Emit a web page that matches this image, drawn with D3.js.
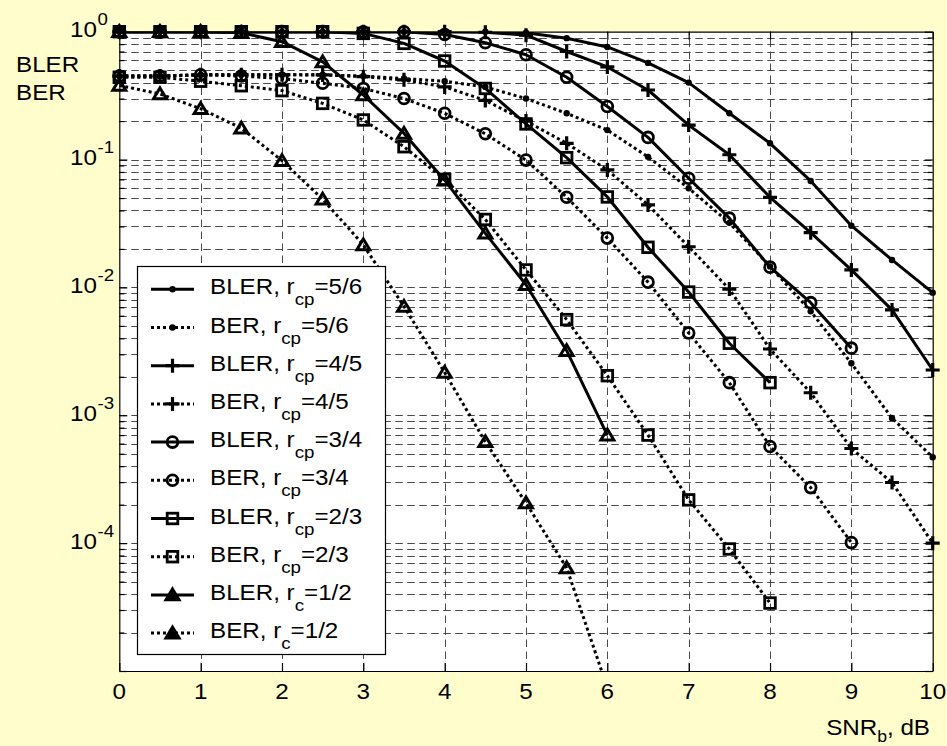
<!DOCTYPE html>
<html>
<head>
<meta charset="utf-8">
<script src="https://cdn.jsdelivr.net/npm/d3@7"></script>
<style>
  html, body { margin: 0; padding: 0; background: #fffdcc; }
  svg { display: block; }
  text { font-family: "Liberation Sans", Arial, Helvetica, sans-serif; fill: #000; }
</style>
</head>
<body>
<svg id="chart" width="947" height="746"></svg>
<script>
// ---- data: SNR grid (dB) and error rates per code rate ----
const snrDb = [0, 0.5, 1, 1.5, 2, 2.5, 3, 3.5, 4, 4.5, 5, 5.5, 6, 6.5, 7, 7.5, 8, 8.5, 9, 9.5, 10];

const blerR56 = [1, 1, 1, 1, 1, 1, 1, 1, 1, 1, 0.98, 0.89, 0.76, 0.57, 0.40, 0.23, 0.134, 0.068, 0.0304, 0.0164, 0.0091];
const berR56  = [0.45, 0.45, 0.46, 0.46, 0.46, 0.46, 0.45, 0.43, 0.41, 0.37, 0.30, 0.23, 0.17, 0.105, 0.0597, 0.032, 0.0146, 0.0065, 0.00255, 0.00095, 0.00047];
const blerR45 = [1, 1, 1, 1, 1, 1, 1, 1, 1, 0.99, 0.94, 0.70, 0.53, 0.35, 0.186, 0.109, 0.0507, 0.0268, 0.0137, 0.00667, 0.00226];
const berR45  = [0.45, 0.45, 0.46, 0.46, 0.46, 0.459, 0.445, 0.42, 0.37, 0.29, 0.20, 0.134, 0.083, 0.0442, 0.0208, 0.0097, 0.0033, 0.0015, 0.00055, 0.000298, 0.0001];
const blerR34 = [1, 1, 1, 1, 1, 1, 1, 1, 0.95, 0.82, 0.66, 0.44, 0.26, 0.149, 0.0714, 0.0348, 0.0144, 0.0076, 0.00335, null, null];
const berR34  = [0.45, 0.45, 0.46, 0.45, 0.43, 0.395, 0.36, 0.30, 0.23, 0.159, 0.099, 0.0507, 0.0243, 0.011, 0.0044, 0.0018, 0.00057, 0.000272, 0.000101, null, null];
const blerR23 = [1, 1, 1, 1, 1, 1, 0.97, 0.81, 0.59, 0.36, 0.19, 0.1035, 0.051, 0.0206, 0.0092, 0.00366, 0.0018, null, null, null, null];
const berR23  = [0.44, 0.44, 0.41, 0.378, 0.346, 0.275, 0.204, 0.126, 0.070, 0.034, 0.0137, 0.0056, 0.00204, 0.0007, 0.000218, 0.00009, 0.000034, null, null, null, null];
const blerR12 = [1, 1, 1, 0.98, 0.835, 0.58, 0.32, 0.16, 0.069, 0.0265, 0.0105, 0.0032, 0.0007, null, null, null, null, null, null, null, null];
const berR12  = [0.38, 0.326, 0.25, 0.176, 0.098, 0.049, 0.0215, 0.0071, 0.00216, 0.00062, 0.000206, 0.000064, 0.0000074, null, null, null, null, null, null, null, null];

// legend text pieces
const metricNames = ["BLER", "BER", "BLER", "BER", "BLER", "BER", "BLER", "BER", "BLER", "BER"];
const rateSubs    = ["cp", "cp", "cp", "cp", "cp", "cp", "cp", "cp", "c", "c"];
const rateTexts   = ["5/6", "5/6", "4/5", "4/5", "3/4", "3/4", "2/3", "2/3", "1/2", "1/2"];

// axis ticks
const xTickValues = [0, 1, 2, 3, 4, 5, 6, 7, 8, 9, 10];
const yDecadeExps = [0, -1, -2, -3, -4];

// ---- series table ----
const seriesValues  = [blerR56, berR56, blerR45, berR45, blerR34, berR34, blerR23, berR23, blerR12, berR12];
const seriesMarkers = ["dot", "dot", "plus", "plus", "circle", "circle", "square", "square", "triangle", "triangle"];
const series = seriesValues.map((vals, i) => ({
  values: vals,
  marker: seriesMarkers[i],
  dotted: i % 2 === 1,
  name: metricNames[i], sub: rateSubs[i], rate: rateTexts[i]
}));

// ---- layout ----
const svg = d3.select("#chart");
const plotL = 119.3, plotR = 932.7, plotT = 31.7, plotB = 671;
const SX = 1.1;           // horizontal glyph stretch
const FONT = 22;

const x = d3.scaleLinear().domain([0, 10]).range([plotL, plotR]);
const y = d3.scaleLog().domain([1e-5, 1]).range([plotB, plotT]);

// figure background
svg.append("rect").attr("width", 947).attr("height", 746).attr("fill", "#fffdcc");
// axes background
svg.append("rect").attr("x", plotL).attr("y", plotT)
  .attr("width", plotR - plotL).attr("height", plotB - plotT).attr("fill", "#fff");

// ---- grid ----
const minorVals = [];
for (let e = -5; e < 0; e++) for (let m = 1; m <= 9; m++) minorVals.push(m * Math.pow(10, e));
const grid = svg.append("g").attr("stroke", "#4a4a4a").attr("stroke-width", 1)
  .attr("stroke-dasharray", "7.5,4.5").attr("fill", "none");
grid.selectAll("line.h").data(minorVals.filter(v => v > 1e-5)).join("line")
  .attr("x1", plotL).attr("x2", plotR)
  .attr("y1", d => Math.round(y(d)) + 0.5).attr("y2", d => Math.round(y(d)) + 0.5);
grid.selectAll("line.v").data(xTickValues.filter(v => v > 0 && v < 10)).join("line")
  .attr("x1", d => Math.round(x(d)) + 0.5).attr("x2", d => Math.round(x(d)) + 0.5)
  .attr("y1", plotB).attr("y2", plotT);

// ---- axes (inward ticks on all four sides) ----
function styleAxis(g) {
  g.selectAll("path,line").attr("stroke", "#000").attr("stroke-width", 1.2);
  g.selectAll("text").remove();
}
svg.append("g").attr("transform", `translate(0,${plotB})`)
  .call(d3.axisBottom(x).tickValues(xTickValues).tickSize(-8).tickSizeOuter(0).tickFormat(""))
  .call(styleAxis);
svg.append("g").attr("transform", `translate(0,${plotT})`)
  .call(d3.axisTop(x).tickValues(xTickValues).tickSize(-8).tickSizeOuter(0).tickFormat(""))
  .call(styleAxis);
const majorY = yDecadeExps.map(e => Math.pow(10, e)).concat([1e-5]);
const minorY = minorVals.filter(v => !majorY.some(m => Math.abs(m - v) / v < 1e-9));
svg.append("g").attr("transform", `translate(${plotL},0)`)
  .call(d3.axisLeft(y).tickValues(majorY).tickSize(-8).tickSizeOuter(0).tickFormat(""))
  .call(styleAxis);
svg.append("g").attr("transform", `translate(${plotL},0)`)
  .call(d3.axisLeft(y).tickValues(minorY).tickSize(-5).tickSizeOuter(0).tickFormat(""))
  .call(styleAxis).select(".domain").remove();
svg.append("g").attr("transform", `translate(${plotR},0)`)
  .call(d3.axisRight(y).tickValues(majorY).tickSize(-8).tickSizeOuter(0).tickFormat(""))
  .call(styleAxis);
svg.append("g").attr("transform", `translate(${plotR},0)`)
  .call(d3.axisRight(y).tickValues(minorY).tickSize(-5).tickSizeOuter(0).tickFormat(""))
  .call(styleAxis).select(".domain").remove();

// ---- text helper (stretched glyphs) ----
function label(parent, px, py, anchor, size) {
  return parent.append("g").attr("transform", `translate(${px},${py}) scale(${SX},1)`)
    .append("text").attr("text-anchor", anchor).attr("font-size", size);
}

// x tick labels
xTickValues.forEach(v => label(svg, x(v), 699, "middle", FONT).text(v));

// y tick labels 10^k
yDecadeExps.forEach(e => {
  const yy = y(Math.pow(10, e));
  label(svg, 97, yy + 5.5, "end", FONT).text("10");
  label(svg, 97.5, yy - 6.5, "start", 17).text(e === 0 ? "0" : "-" + Math.abs(e));
});

// axis titles
label(svg, 16, 72, "start", 22).text("BLER");
label(svg, 16, 100, "start", 22).text("BER");
const xt = label(svg, 930, 735, "end", FONT);
xt.append("tspan").text("SNR");
xt.append("tspan").attr("font-size", 16).attr("dy", 7).text("b");
xt.append("tspan").attr("dy", -7).text(", dB");

// ---- markers ----
function drawMarker(g, kind, cx, cy, solidFill) {
  if (kind === "dot") {
    g.append("circle").attr("cx", cx).attr("cy", cy).attr("r", 3.2).attr("fill", "#000");
  } else if (kind === "plus") {
    g.append("path").attr("d", `M${cx - 7},${cy}H${cx + 7}M${cx},${cy - 7}V${cy + 7}`)
      .attr("stroke", "#000").attr("stroke-width", 3.2).attr("fill", "none");
  } else if (kind === "circle") {
    g.append("circle").attr("cx", cx).attr("cy", cy).attr("r", 5.4)
      .attr("stroke", "#000").attr("stroke-width", 2.8).attr("fill", "none");
  } else if (kind === "square") {
    g.append("rect").attr("x", cx - 5.3).attr("y", cy - 5.3).attr("width", 10.6).attr("height", 10.6)
      .attr("stroke", "#000").attr("stroke-width", 2.8).attr("fill", "none");
  } else if (kind === "triangle") {
    g.append("path").attr("d", `M${cx},${cy - 6}L${cx + 6.5},${cy + 4.8}L${cx - 6.5},${cy + 4.8}Z`)
      .attr("stroke", "#000").attr("stroke-width", 3).attr("stroke-linejoin", "miter")
      .attr("fill", solidFill ? "#000" : "none");
  }
}

// ---- curves ----
svg.append("clipPath").attr("id", "plotClip").append("rect")
  .attr("x", plotL).attr("y", plotT).attr("width", plotR - plotL).attr("height", plotB - plotT);

const lineGen = d3.line()
  .defined(d => d.v != null)
  .x(d => x(d.x)).y(d => y(d.v));

series.forEach(s => {
  const pts = snrDb.map((xv, i) => ({ x: xv, v: s.values[i] }));
  const g = svg.append("g");
  g.append("path").attr("d", lineGen(pts)).attr("clip-path", "url(#plotClip)")
    .attr("fill", "none").attr("stroke", "#000")
    .attr("stroke-width", 3)
    .attr("stroke-dasharray", s.dotted ? "3,3" : null)
    .attr("stroke-linejoin", "round");
  pts.filter(p => p.v != null && p.v >= 1e-5 && p.v <= 1)
    .forEach(p => drawMarker(g, s.marker, x(p.x), y(p.v), false));
});

// ---- legend ----
const lg = svg.append("g");
lg.append("rect").attr("x", 137.5).attr("y", 266.5).attr("width", 248).attr("height", 388)
  .attr("fill", "#fff").attr("stroke", "#000").attr("stroke-width", 1.2);
series.forEach((s, i) => {
  const ly = 289.3 + i * 38.2;
  lg.append("line").attr("x1", 151).attr("x2", 194).attr("y1", ly).attr("y2", ly)
    .attr("stroke", "#000").attr("stroke-width", 3)
    .attr("stroke-dasharray", s.dotted ? "3,3" : null);
  drawMarker(lg, s.marker, 172.5, ly, true);
  const t = label(lg, 210, ly + 5, "start", FONT);
  t.append("tspan").text(`${s.name}, r`);
  t.append("tspan").attr("font-size", 17).attr("dy", 11).text(s.sub);
  t.append("tspan").attr("dy", -11).text(`=${s.rate}`);
});
</script>
</body>
</html>
